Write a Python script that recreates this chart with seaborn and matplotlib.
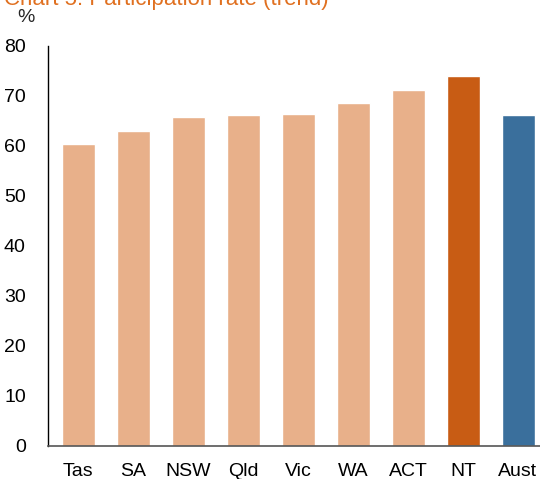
import seaborn as sns
import matplotlib.pyplot as plt
import pandas as pd

states = ['Tas', 'SA', 'NSW', 'Qld', 'Vic', 'WA', 'ACT', 'NT', 'Aust']
rate = [60.4, 63.0, 65.8, 66.2, 66.4, 68.6, 71.2, 74.0, 66.2]
colors = ['#E8B08A'] * 7 + ['#C85C14', '#3A6F9C']

df = pd.DataFrame({'state': states, 'rate': rate})

sns.set_style('white')
plt.rcParams['font.family'] = ['Liberation Sans', 'DejaVu Sans']

fig = plt.figure(figsize=(5.4, 4.79), dpi=100)
ax = fig.add_axes([48/540, 1 - 446/479, 1 - 48/540, 400/479])

sns.barplot(x='state', y='rate', hue='state', data=df, palette=colors,
            legend=False, width=0.6, saturation=1, ax=ax)

ax.set_ylim(0, 80)
ax.set_xlim(-0.55, 8.4)
ax.set_yticks(range(0, 81, 10))
ax.set_xlabel('')
ax.set_ylabel('')
ax.tick_params(axis='both', labelsize=14, length=0, colors='black')
ax.tick_params(axis='y', pad=16)
ax.tick_params(axis='x', pad=12)

for s in ['top', 'right']:
    ax.spines[s].set_visible(False)
ax.spines['left'].set_color('black')
ax.spines['left'].set_linewidth(1)
ax.spines['bottom'].set_color('#555555')
ax.spines['bottom'].set_linewidth(1.2)

fig.text(17/540, 1 - 17/479, '%', fontsize=14, va='center', ha='left')
fig.text(4/540, 1 + 1/479, 'Chart 5: Participation rate (trend)', fontsize=16,
         color='#E07020', va='center', ha='left')

fig.savefig('out.png', dpi=100)
